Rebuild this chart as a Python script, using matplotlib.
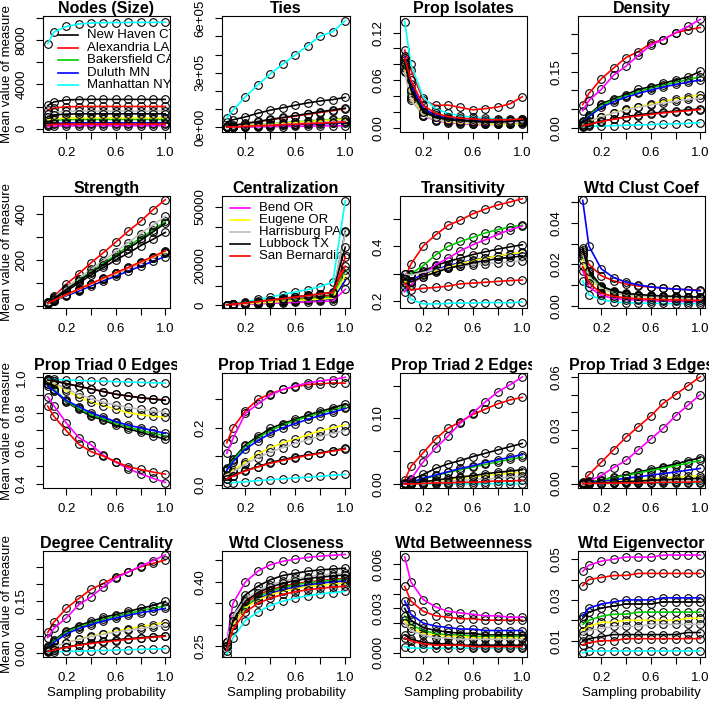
import matplotlib
matplotlib.use("Agg")
import matplotlib.pyplot as plt
from matplotlib.transforms import Bbox, TransformedBbox

plt.rcParams['font.family'] = ['Liberation Sans', 'DejaVu Sans']

W, H = 709, 711

# sampling probabilities
p = [0.05, 0.1, 0.2, 0.3, 0.4, 0.5, 0.6, 0.7, 0.8, 0.9, 1.0]

cities = ["New Haven CT", "Alexandria LA", "Bakersfield CA", "Duluth MN", "Manhattan NY",
          "Bend OR", "Eugene OR", "Harrisburg PA", "Lubbock TX", "San Bernardino"]
colors = ["black", "red", "#00CD00", "blue", "cyan",
          "magenta", "yellow", "#BEBEBE", "black", "red"]

# one list per city, same order as cities
nodes = [
    [2100, 2420, 2600, 2640, 2650, 2650, 2650, 2650, 2650, 2650, 2650],
    [1650, 1870, 1980, 2000, 2010, 2010, 2010, 2010, 2010, 2010, 2010],
    [650, 760, 820, 830, 835, 835, 835, 835, 835, 835, 835],
    [420, 490, 520, 530, 530, 530, 530, 530, 530, 530, 530],
    [7700, 8750, 9250, 9480, 9560, 9600, 9600, 9620, 9620, 9620, 9640],
    [200, 240, 260, 265, 265, 265, 265, 265, 265, 265, 265],
    [780, 900, 960, 975, 980, 980, 980, 980, 980, 980, 980],
    [1300, 1480, 1570, 1590, 1600, 1600, 1600, 1600, 1600, 1600, 1600],
    [1100, 1250, 1320, 1340, 1345, 1345, 1345, 1345, 1345, 1345, 1345],
    [330, 390, 410, 415, 415, 415, 415, 415, 415, 415, 415],
]
ties = [
    [30000, 42000, 58000, 78000, 95000, 108000, 122000, 135000, 145000, 153000, 165000],
    [5000, 10000, 21000, 31000, 42000, 52000, 62000, 72000, 82000, 92000, 103000],
    [2500, 5000, 10000, 15000, 20000, 25000, 30000, 35000, 40000, 44000, 49000],
    [1300, 2600, 5200, 7800, 10000, 12500, 15000, 17500, 20000, 22500, 25000],
    [52000, 94000, 169000, 234000, 294000, 348000, 399000, 449000, 502000, 526000, 586000],
    [500, 1000, 2000, 3000, 4000, 5000, 6000, 7000, 8000, 9000, 10000],
    [2300, 4600, 9200, 14000, 18500, 23000, 27500, 32000, 36500, 41000, 45000],
    [1800, 3600, 7200, 10500, 14000, 17500, 21000, 24500, 28000, 31500, 35000],
    [6000, 11000, 22000, 33000, 44000, 55000, 65000, 76000, 86000, 96000, 106000],
    [1500, 3000, 6000, 9000, 12000, 15000, 18000, 21000, 24000, 27000, 30000],
]
isolates = [
    [0.085, 0.050, 0.022, 0.014, 0.011, 0.009, 0.008, 0.007, 0.007, 0.007, 0.007],
    [0.098, 0.073, 0.035, 0.028, 0.0285, 0.0255, 0.0225, 0.024, 0.026, 0.030, 0.039],
    [0.080, 0.045, 0.020, 0.013, 0.010, 0.008, 0.007, 0.006, 0.006, 0.006, 0.008],
    [0.090, 0.055, 0.024, 0.016, 0.012, 0.010, 0.009, 0.009, 0.008, 0.008, 0.009],
    [0.134, 0.080, 0.038, 0.024, 0.018, 0.015, 0.013, 0.012, 0.011, 0.011, 0.011],
    [0.072, 0.040, 0.015, 0.009, 0.006, 0.005, 0.004, 0.004, 0.004, 0.005, 0.006],
    [0.075, 0.038, 0.016, 0.010, 0.007, 0.006, 0.005, 0.005, 0.004, 0.004, 0.005],
    [0.070, 0.035, 0.015, 0.010, 0.008, 0.007, 0.006, 0.006, 0.006, 0.006, 0.007],
    [0.082, 0.048, 0.020, 0.013, 0.010, 0.009, 0.008, 0.007, 0.007, 0.008, 0.010],
    [0.088, 0.060, 0.028, 0.018, 0.014, 0.012, 0.011, 0.010, 0.010, 0.010, 0.011],
]
density = [
    [0.018, 0.035, 0.064, 0.078, 0.089, 0.103, 0.110, 0.119, 0.128, 0.136, 0.151],
    [0.062, 0.092, 0.131, 0.160, 0.188, 0.204, 0.226, 0.236, 0.254, 0.262, 0.268],
    [0.016, 0.033, 0.060, 0.075, 0.086, 0.097, 0.106, 0.114, 0.122, 0.129, 0.136],
    [0.015, 0.030, 0.055, 0.070, 0.082, 0.092, 0.101, 0.109, 0.116, 0.122, 0.128],
    [0.003, 0.004, 0.005, 0.006, 0.007, 0.008, 0.009, 0.010, 0.011, 0.012, 0.014],
    [0.046, 0.073, 0.103, 0.141, 0.165, 0.194, 0.221, 0.236, 0.254, 0.271, 0.290],
    [0.008, 0.016, 0.030, 0.041, 0.050, 0.057, 0.064, 0.071, 0.077, 0.083, 0.088],
    [0.010, 0.018, 0.030, 0.040, 0.048, 0.055, 0.061, 0.066, 0.071, 0.076, 0.080],
    [0.006, 0.010, 0.018, 0.024, 0.030, 0.035, 0.039, 0.042, 0.045, 0.048, 0.051],
    [0.005, 0.009, 0.017, 0.023, 0.028, 0.032, 0.036, 0.040, 0.043, 0.046, 0.049],
]
strength = [
    [15, 28, 65, 100, 135, 168, 200, 230, 262, 290, 320],
    [20, 42, 95, 140, 188, 232, 278, 325, 368, 418, 462],
    [16, 35, 75, 112, 150, 187, 222, 260, 295, 330, 368],
    [10, 22, 45, 65, 88, 110, 130, 152, 173, 195, 215],
    [12, 25, 50, 72, 96, 120, 142, 165, 188, 210, 232],
    [12, 24, 49, 72, 95, 118, 141, 164, 186, 210, 233],
    [12, 24, 49, 73, 96, 119, 142, 166, 189, 212, 235],
    [18, 38, 80, 120, 160, 198, 237, 275, 315, 352, 390],
    [15, 33, 72, 108, 145, 180, 215, 250, 285, 322, 360],
    [13, 25, 50, 74, 98, 122, 145, 168, 192, 215, 240],
]
centralization = [
    [300, 500, 1000, 1600, 2200, 2800, 3400, 4000, 4600, 5200, 37500],
    [250, 450, 900, 1400, 2000, 2600, 3200, 3800, 4400, 5000, 24400],
    [250, 450, 900, 1300, 1800, 2300, 2800, 3300, 3800, 4300, 18000],
    [200, 350, 700, 1000, 1400, 1800, 2100, 2500, 2800, 3200, 12600],
    [400, 800, 1800, 3000, 4200, 5500, 6800, 8000, 9500, 11800, 53000],
    [150, 250, 500, 750, 1000, 1200, 1500, 1700, 2000, 2200, 8100],
    [200, 400, 800, 1200, 1600, 2000, 2400, 2800, 3200, 3600, 15200],
    [300, 600, 1200, 1900, 2600, 3300, 4000, 4700, 5400, 6100, 37000],
    [300, 600, 1300, 2000, 2800, 3500, 4300, 5000, 5800, 6500, 29500],
    [300, 600, 1200, 1900, 2700, 3400, 4200, 5000, 5800, 6600, 19900],
]
transitivity = [
    [0.29, 0.30, 0.31, 0.33, 0.345, 0.357, 0.37, 0.38, 0.39, 0.398, 0.406],
    [0.283, 0.335, 0.402, 0.442, 0.477, 0.496, 0.519, 0.536, 0.551, 0.562, 0.574],
    [0.29, 0.30, 0.33, 0.369, 0.40, 0.418, 0.433, 0.449, 0.461, 0.471, 0.477],
    [0.30, 0.275, 0.30, 0.315, 0.33, 0.34, 0.35, 0.358, 0.365, 0.37, 0.375],
    [0.25, 0.207, 0.19, 0.19, 0.192, 0.193, 0.193, 0.195, 0.195, 0.194, 0.197],
    [0.234, 0.259, 0.296, 0.333, 0.357, 0.384, 0.406, 0.424, 0.443, 0.461, 0.474],
    [0.27, 0.27, 0.29, 0.31, 0.325, 0.337, 0.348, 0.357, 0.365, 0.372, 0.378],
    [0.30, 0.295, 0.305, 0.315, 0.322, 0.328, 0.333, 0.337, 0.34, 0.343, 0.347],
    [0.28, 0.27, 0.29, 0.305, 0.32, 0.33, 0.34, 0.348, 0.355, 0.36, 0.365],
    [0.265, 0.24, 0.247, 0.25, 0.255, 0.263, 0.266, 0.269, 0.272, 0.275, 0.277],
]
clustcoef = [
    [0.028, 0.016, 0.009, 0.0065, 0.0055, 0.005, 0.0045, 0.0042, 0.004, 0.0038, 0.0036],
    [0.026, 0.020, 0.0145, 0.012, 0.0105, 0.0095, 0.009, 0.0085, 0.008, 0.0078, 0.0075],
    [0.024, 0.015, 0.009, 0.0068, 0.0058, 0.0052, 0.0048, 0.0045, 0.0043, 0.0041, 0.004],
    [0.0509, 0.0288, 0.0178, 0.0136, 0.0114, 0.0101, 0.0091, 0.0085, 0.008, 0.0077, 0.0072],
    [0.012, 0.0053, 0.003, 0.0018, 0.0015, 0.0013, 0.0012, 0.0011, 0.001, 0.001, 0.001],
    [0.017, 0.009, 0.005, 0.0035, 0.003, 0.0026, 0.0024, 0.0022, 0.0021, 0.002, 0.002],
    [0.022, 0.013, 0.008, 0.006, 0.005, 0.0045, 0.0042, 0.004, 0.0038, 0.0037, 0.0035],
    [0.025, 0.014, 0.0085, 0.0062, 0.0052, 0.0047, 0.0044, 0.0041, 0.0039, 0.0038, 0.0037],
    [0.027, 0.017, 0.0095, 0.0072, 0.006, 0.0054, 0.005, 0.0047, 0.0045, 0.0043, 0.0042],
    [0.019, 0.011, 0.006, 0.0045, 0.0038, 0.0034, 0.0031, 0.0029, 0.0028, 0.0027, 0.0026],
]
triad0 = [
    [0.96, 0.93, 0.86, 0.82, 0.78, 0.76, 0.73, 0.71, 0.69, 0.67, 0.651],
    [0.99, 0.98, 0.965, 0.95, 0.935, 0.92, 0.905, 0.895, 0.885, 0.878, 0.872],
    [0.965, 0.935, 0.865, 0.825, 0.79, 0.765, 0.74, 0.72, 0.70, 0.685, 0.67],
    [0.95, 0.925, 0.87, 0.835, 0.80, 0.775, 0.75, 0.73, 0.715, 0.70, 0.684],
    [0.99, 0.99, 0.985, 0.983, 0.98, 0.978, 0.976, 0.974, 0.972, 0.970, 0.968],
    [0.89, 0.84, 0.743, 0.66, 0.619, 0.56, 0.52, 0.485, 0.455, 0.43, 0.406],
    [0.98, 0.965, 0.925, 0.89, 0.86, 0.84, 0.82, 0.80, 0.79, 0.78, 0.775],
    [0.985, 0.97, 0.935, 0.905, 0.88, 0.86, 0.845, 0.83, 0.82, 0.81, 0.805],
    [0.985, 0.98, 0.965, 0.95, 0.935, 0.92, 0.905, 0.895, 0.885, 0.878, 0.87],
    [0.838, 0.78, 0.699, 0.623, 0.581, 0.555, 0.524, 0.495, 0.48, 0.465, 0.453],
]
triad1 = [
    [0.06, 0.09, 0.14, 0.17, 0.198, 0.215, 0.23, 0.245, 0.258, 0.27, 0.284],
    [0.147, 0.20, 0.26, 0.30, 0.32, 0.335, 0.345, 0.352, 0.355, 0.358, 0.357],
    [0.055, 0.085, 0.135, 0.165, 0.19, 0.21, 0.225, 0.24, 0.252, 0.263, 0.275],
    [0.05, 0.08, 0.125, 0.155, 0.18, 0.2, 0.215, 0.23, 0.243, 0.255, 0.268],
    [0.005, 0.007, 0.01, 0.014, 0.017, 0.02, 0.023, 0.026, 0.029, 0.033, 0.036],
    [0.11, 0.162, 0.251, 0.284, 0.315, 0.335, 0.348, 0.358, 0.365, 0.37, 0.378],
    [0.035, 0.05, 0.08, 0.108, 0.13, 0.148, 0.16, 0.175, 0.19, 0.2, 0.21],
    [0.03, 0.045, 0.072, 0.095, 0.115, 0.13, 0.145, 0.158, 0.17, 0.18, 0.19],
    [0.02, 0.032, 0.05, 0.063, 0.078, 0.088, 0.097, 0.105, 0.112, 0.12, 0.128],
    [0.02, 0.03, 0.048, 0.062, 0.075, 0.085, 0.094, 0.103, 0.11, 0.118, 0.125],
]
triad2 = [
    [0.002, 0.006, 0.015, 0.024, 0.031, 0.036, 0.042, 0.047, 0.052, 0.057, 0.062],
    [0.006, 0.027, 0.048, 0.069, 0.085, 0.095, 0.106, 0.114, 0.122, 0.128, 0.132],
    [0.001, 0.003, 0.008, 0.013, 0.018, 0.022, 0.026, 0.030, 0.034, 0.038, 0.041],
    [0.001, 0.003, 0.009, 0.014, 0.019, 0.024, 0.028, 0.033, 0.037, 0.041, 0.045],
    [0.0, 0.0001, 0.0002, 0.0003, 0.0004, 0.0005, 0.0006, 0.0007, 0.0008, 0.0009, 0.001],
    [0.002, 0.008, 0.034, 0.055, 0.073, 0.093, 0.108, 0.125, 0.140, 0.151, 0.163],
    [0.0005, 0.001, 0.003, 0.005, 0.007, 0.009, 0.011, 0.013, 0.015, 0.017, 0.018],
    [0.0003, 0.0008, 0.002, 0.003, 0.004, 0.006, 0.007, 0.008, 0.009, 0.011, 0.012],
    [0.0005, 0.0015, 0.004, 0.006, 0.009, 0.011, 0.013, 0.016, 0.018, 0.020, 0.022],
    [0.0002, 0.0005, 0.001, 0.002, 0.002, 0.003, 0.003, 0.004, 0.005, 0.005, 0.006],
]
triad3 = [
    [0.0002, 0.0007, 0.002, 0.0035, 0.005, 0.0065, 0.008, 0.0095, 0.011, 0.0128, 0.0145],
    [0.001, 0.005, 0.012, 0.019, 0.026, 0.032, 0.038, 0.045, 0.050, 0.055, 0.060],
    [0.0002, 0.0006, 0.002, 0.0033, 0.0046, 0.006, 0.0073, 0.0087, 0.01, 0.0115, 0.013],
    [0.0001, 0.0004, 0.0012, 0.002, 0.003, 0.0038, 0.0047, 0.0056, 0.0065, 0.0075, 0.0085],
    [0.0, 0.0, 0.0, 0.0001, 0.0001, 0.0001, 0.0002, 0.0002, 0.0002, 0.0003, 0.0003],
    [0.0005, 0.0015, 0.0045, 0.009, 0.013, 0.019, 0.025, 0.031, 0.038, 0.044, 0.050],
    [0.0, 0.0001, 0.0005, 0.001, 0.0015, 0.002, 0.0025, 0.003, 0.0035, 0.004, 0.0045],
    [0.0, 0.0001, 0.0003, 0.0005, 0.0007, 0.0009, 0.0011, 0.0014, 0.0016, 0.0018, 0.002],
    [0.0, 0.0001, 0.0004, 0.0008, 0.0011, 0.0014, 0.0018, 0.0021, 0.0024, 0.0027, 0.003],
    [0.0, 0.0, 0.0001, 0.0002, 0.0003, 0.0004, 0.0005, 0.0006, 0.0007, 0.0008, 0.001],
]
degree = [
    [0.02, 0.037, 0.065, 0.08, 0.092, 0.104, 0.112, 0.121, 0.13, 0.138, 0.15],
    [0.06, 0.09, 0.13, 0.158, 0.185, 0.202, 0.222, 0.235, 0.25, 0.26, 0.27],
    [0.017, 0.034, 0.061, 0.076, 0.087, 0.098, 0.107, 0.115, 0.123, 0.13, 0.137],
    [0.015, 0.031, 0.056, 0.071, 0.083, 0.093, 0.102, 0.11, 0.117, 0.123, 0.13],
    [0.003, 0.004, 0.005, 0.006, 0.007, 0.008, 0.009, 0.01, 0.011, 0.012, 0.013],
    [0.045, 0.072, 0.102, 0.14, 0.163, 0.192, 0.218, 0.235, 0.252, 0.268, 0.285],
    [0.008, 0.016, 0.03, 0.041, 0.05, 0.057, 0.064, 0.071, 0.077, 0.083, 0.088],
    [0.01, 0.018, 0.03, 0.04, 0.048, 0.055, 0.061, 0.066, 0.071, 0.076, 0.08],
    [0.006, 0.01, 0.018, 0.024, 0.03, 0.035, 0.039, 0.042, 0.045, 0.048, 0.051],
    [0.005, 0.009, 0.017, 0.023, 0.028, 0.032, 0.036, 0.04, 0.043, 0.046, 0.049],
]
closeness = [
    [0.25, 0.32, 0.37, 0.39, 0.405, 0.415, 0.42, 0.425, 0.428, 0.43, 0.432],
    [0.26, 0.31, 0.35, 0.37, 0.382, 0.39, 0.396, 0.4, 0.403, 0.406, 0.408],
    [0.25, 0.30, 0.345, 0.365, 0.378, 0.387, 0.393, 0.398, 0.401, 0.404, 0.406],
    [0.25, 0.30, 0.34, 0.36, 0.373, 0.382, 0.388, 0.393, 0.397, 0.4, 0.402],
    [0.23, 0.27, 0.31, 0.33, 0.345, 0.355, 0.362, 0.368, 0.372, 0.375, 0.378],
    [0.26, 0.35, 0.40, 0.425, 0.44, 0.448, 0.453, 0.457, 0.46, 0.462, 0.464],
    [0.25, 0.30, 0.34, 0.358, 0.37, 0.378, 0.384, 0.389, 0.392, 0.395, 0.397],
    [0.26, 0.32, 0.36, 0.38, 0.393, 0.402, 0.408, 0.412, 0.416, 0.418, 0.42],
    [0.25, 0.31, 0.355, 0.375, 0.388, 0.397, 0.403, 0.408, 0.411, 0.414, 0.416],
    [0.24, 0.29, 0.33, 0.35, 0.362, 0.371, 0.377, 0.382, 0.385, 0.388, 0.39],
]
betweenness = [
    [0.0030, 0.0022, 0.0017, 0.0015, 0.0014, 0.0013, 0.0013, 0.0012, 0.0012, 0.0012, 0.0012],
    [0.0045, 0.0035, 0.0028, 0.0025, 0.0024, 0.0023, 0.0023, 0.0022, 0.0022, 0.0022, 0.0022],
    [0.0025, 0.0019, 0.0015, 0.0013, 0.0012, 0.0012, 0.0011, 0.0011, 0.0011, 0.0011, 0.0011],
    [0.0035, 0.0026, 0.0020, 0.0018, 0.0017, 0.0016, 0.0016, 0.0015, 0.0015, 0.0015, 0.0015],
    [0.0004, 0.0003, 0.0003, 0.0003, 0.0003, 0.0003, 0.0003, 0.0003, 0.0003, 0.0003, 0.0003],
    [0.0065, 0.0048, 0.0036, 0.0031, 0.0028, 0.0027, 0.0026, 0.0025, 0.0025, 0.0024, 0.0024],
    [0.0022, 0.0017, 0.0013, 0.0012, 0.0011, 0.0011, 0.0010, 0.0010, 0.0010, 0.0010, 0.0010],
    [0.0020, 0.0015, 0.0012, 0.0010, 0.0010, 0.0009, 0.0009, 0.0009, 0.0009, 0.0009, 0.0009],
    [0.0012, 0.0009, 0.0007, 0.0006, 0.0006, 0.0005, 0.0005, 0.0005, 0.0005, 0.0005, 0.0005],
    [0.0010, 0.0008, 0.0006, 0.0005, 0.0005, 0.0005, 0.0004, 0.0004, 0.0004, 0.0004, 0.0004],
]
eigenvector = [
    [0.021, 0.024, 0.026, 0.027, 0.028, 0.028, 0.028, 0.029, 0.029, 0.029, 0.029],
    [0.037, 0.040, 0.041, 0.042, 0.042, 0.043, 0.043, 0.043, 0.043, 0.043, 0.043],
    [0.018, 0.020, 0.022, 0.023, 0.023, 0.024, 0.024, 0.024, 0.024, 0.024, 0.024],
    [0.022, 0.026, 0.028, 0.029, 0.030, 0.030, 0.030, 0.031, 0.031, 0.031, 0.031],
    [0.004, 0.005, 0.005, 0.005, 0.005, 0.005, 0.005, 0.005, 0.005, 0.005, 0.005],
    [0.044, 0.047, 0.049, 0.050, 0.051, 0.051, 0.051, 0.052, 0.052, 0.052, 0.052],
    [0.015, 0.017, 0.019, 0.019, 0.020, 0.020, 0.020, 0.020, 0.020, 0.021, 0.021],
    [0.013, 0.015, 0.016, 0.017, 0.017, 0.017, 0.018, 0.018, 0.018, 0.018, 0.018],
    [0.010, 0.011, 0.012, 0.013, 0.013, 0.013, 0.013, 0.013, 0.013, 0.014, 0.014],
    [0.008, 0.009, 0.010, 0.010, 0.011, 0.011, 0.011, 0.011, 0.011, 0.011, 0.011],
]

titles = ["Nodes (Size)", "Ties", "Prop Isolates", "Density",
          "Strength", "Centralization", "Transitivity", "Wtd Clust Coef",
          "Prop Triad 0 Edges", "Prop Triad 1 Edge", "Prop Triad 2 Edges", "Prop Triad 3 Edges",
          "Degree Centrality", "Wtd Closeness", "Wtd Betweenness", "Wtd Eigenvector"]
panels = [nodes, ties, isolates, density, strength, centralization, transitivity, clustcoef,
          triad0, triad1, triad2, triad3, degree, closeness, betweenness, eigenvector]

# y limits, tick positions and the labels R kept
ylims = [(-300, 10200), (-25000, 612000), (-0.0055, 0.141), (-0.011, 0.299),
         (-8, 478), (-1350, 55500), (0.175, 0.584), (-0.0011, 0.053),
         (0.375, 1.025), (-0.012, 0.393), (-0.0057, 0.169), (-0.0025, 0.0621),
         (-0.011, 0.296), (0.225, 0.472), (-0.0003, 0.0069), (0.002, 0.054)]
yticks = [
    ([0, 2000, 4000, 6000, 8000, 10000], ["0", "", "4000", "", "8000", ""]),
    ([0, 1e5, 2e5, 3e5, 4e5, 5e5, 6e5], ["0e+00", "", "", "3e+05", "", "", "6e+05"]),
    ([0, 0.02, 0.04, 0.06, 0.08, 0.10, 0.12], ["0.00", "", "", "0.06", "", "", "0.12"]),
    ([0, 0.05, 0.10, 0.15, 0.20, 0.25], ["0.00", "", "", "0.15", "", ""]),
    ([0, 100, 200, 300, 400], ["0", "", "200", "", "400"]),
    ([0, 10000, 20000, 30000, 40000, 50000], ["0", "", "20000", "", "", "50000"]),
    ([0.2, 0.3, 0.4, 0.5], ["0.2", "", "0.4", ""]),
    ([0, 0.01, 0.02, 0.03, 0.04, 0.05], ["0.00", "", "0.02", "", "0.04", ""]),
    ([0.4, 0.5, 0.6, 0.7, 0.8, 0.9, 1.0], ["0.4", "", "0.6", "", "0.8", "", "1.0"]),
    ([0, 0.1, 0.2, 0.3], ["0.0", "", "0.2", ""]),
    ([0, 0.05, 0.10, 0.15], ["0.00", "", "0.10", ""]),
    ([0, 0.01, 0.02, 0.03, 0.04, 0.05, 0.06], ["0.00", "", "", "0.03", "", "", "0.06"]),
    ([0, 0.05, 0.10, 0.15, 0.20, 0.25], ["0.00", "", "", "0.15", "", ""]),
    ([0.25, 0.30, 0.35, 0.40, 0.45], ["0.25", "", "", "0.40", ""]),
    ([0, 0.001, 0.002, 0.003, 0.004, 0.005, 0.006], ["0.000", "", "", "0.003", "", "", "0.006"]),
    ([0.01, 0.02, 0.03, 0.04, 0.05], ["0.01", "", "0.03", "", "0.05"]),
]

# axes boxes in pixels
col_l = [43, 222, 400, 578]
col_r = [170, 350, 527, 705]
row_t = [16, 196, 373, 551]
row_b = [132, 308, 488, 657]

fig = plt.figure(figsize=(W / 100, H / 100), dpi=100)

for k in range(16):
    r, c = divmod(k, 4)
    l, rr, t, b = col_l[c], col_r[c], row_t[r], row_b[r]
    ax = fig.add_axes([l / W, 1 - b / H, (rr - l) / W, (b - t) / H])
    for vals, col in zip(panels[k], colors):
        ax.plot(p, vals, 'o', mfc='none', mec='black', ms=5.5, mew=0.8, zorder=2)
        ax.plot(p, vals, '-', color=col, lw=1.2, zorder=2)
    ax.set_xlim(0.012, 1.038)
    ax.set_ylim(*ylims[k])
    ax.set_xticks([0.2, 0.4, 0.6, 0.8, 1.0])
    ax.set_xticklabels(["0.2", "", "0.6", "", "1.0"])
    ax.set_yticks(yticks[k][0])
    ax.set_yticklabels(yticks[k][1], rotation=90, va='center')
    ax.tick_params(direction='out', length=5, width=0.8, pad=6, labelsize=9.5)
    for s in ax.spines.values():
        s.set_linewidth(0.8)
    ttl = ax.set_title(titles[k], fontsize=11.5, fontweight='bold', pad=1)
    ttl.set_clip_box(TransformedBbox(Bbox([[c / 4, 0], [(c + 1) / 4, 1]]), fig.transFigure))
    ttl.set_clip_on(True)
    if c == 0:
        fig.text(7 / W, 1 - (t + b) / 2 / H, "Mean value of measure", rotation=90,
                 ha='center', va='center', fontsize=9.5)
    if r == 3:
        ax.set_xlabel("Sampling probability", fontsize=9.5, labelpad=2)

    # legends drawn by hand so the text is cut at the box like in R
    if k in (0, 5):
        idx = range(0, 5) if k == 0 else range(5, 10)
        x0, x1, xt, y0 = (0.118, 0.276, 0.346, 0.836) if k == 0 else (0.0625, 0.22, 0.29, 0.893)
        for j, i in enumerate(idx):
            yy = y0 - j * 0.108
            ax.plot([x0, x1], [yy, yy], color=colors[i], lw=1.2, transform=ax.transAxes, zorder=1)
            ax.text(xt, yy, cities[i], transform=ax.transAxes, va='center', ha='left',
                    fontsize=9.5, clip_on=True, zorder=1)

fig.savefig("out.png", dpi=100)
